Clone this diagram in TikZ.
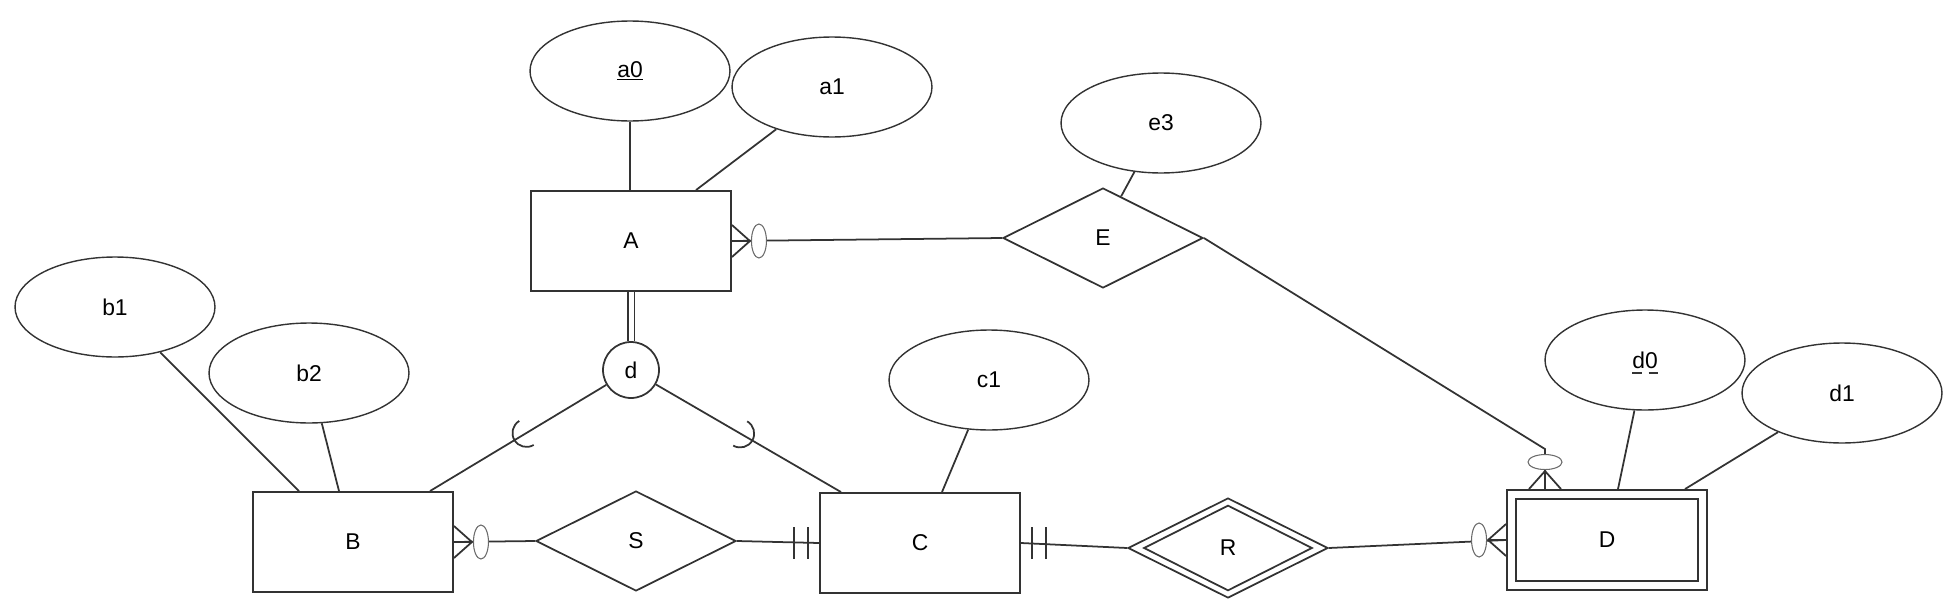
\documentclass[tikz,border=0pt]{standalone}
\usepackage{fontspec}
\setmainfont{Liberation Sans}
\usepackage{tikz}
\usetikzlibrary{calc,shapes.geometric}
\definecolor{cEdge}{HTML}{333333}
\definecolor{cSoft}{HTML}{6A6A6A}
\tikzset{
  ent/.style={draw=cEdge,fill=white,line width=1.1pt,minimum width=4cm,minimum height=2cm,inner sep=0pt,font=\fontsize{13}{15}\selectfont},
  attr/.style={draw=cEdge,ellipse,line width=0.8pt,minimum width=4cm,minimum height=2cm,inner sep=0pt,font=\fontsize{13}{15}\selectfont},
  rel/.style={draw=cEdge,diamond,aspect=2,line width=1pt,minimum width=4cm,minimum height=2cm,inner sep=0pt,font=\fontsize{13}{15}\selectfont},
  spec/.style={draw=cEdge,circle,line width=1pt,minimum size=1.12cm,inner sep=0pt,font=\fontsize{13}{15}\selectfont},
  conn/.style={draw=cEdge,line width=1pt},
  opt/.style={draw=cSoft,fill=white,line width=0.6pt},
  partkey/.style={draw=cEdge,line width=0.7pt,dash pattern=on 0.19cm off 0.14cm},
}
% zero-or-many: crow's foot plus small ellipse
\newcommand{\zeromany}[2]{%
  \begin{scope}[shift={(#1)},rotate=#2]
    \draw[conn] (0,16) -- (18,0) -- (0,-16) (0,0) -- (18,0);
    \draw[opt] (27,0) ellipse [x radius=7.5,y radius=17];
  \end{scope}}
% exactly one: two bars
\newcommand{\mandone}[2]{%
  \begin{scope}[shift={(#1)},rotate=#2]
    \draw[conn] (11,-16) -- (11,16) (25,-16) -- (25,16);
  \end{scope}}
% subset arc on a specialisation line
\newcommand{\subarc}[2]{%
  \begin{scope}[shift={(#1)},rotate=#2]
    \draw[conn] (90:14) arc[start angle=90,end angle=-90,radius=14];
  \end{scope}}

\begin{document}
\begin{tikzpicture}[x=0.02cm,y=0.02cm]
  \useasboundingbox (0,0) rectangle (1954,610);
  % entities
  \node[ent] (A) at (631,369) {A};
  \node[ent] (B) at (353,68) {B};
  \node[ent] (C) at (920,67) {C};
  \node[ent] (D) at (1607,70) {D};
  \draw[line width=1.1pt,draw=cEdge] ([shift={(10,10)}]D.south west) rectangle ([shift={(-10,-10)}]D.north east);
  % relationships
  \node[rel] (E) at (1103,372) {E};
  \node[rel] (S) at (636,69) {S};
  \node[rel] (R) at (1228,62) {R};
  \draw[line width=1pt,draw=cEdge] ($(R.west)+(17,0)$) -- ($(R.north)+(0,-8.5)$) -- ($(R.east)+(-17,0)$) -- ($(R.south)+(0,8.5)$) -- cycle;
  % attributes
  \node[attr] (a0) at (630,539) {\underline{a0}};
  \node[attr] (a1) at (832,523) {a1};
  \node[attr] (e3) at (1161,487) {e3};
  \node[attr] (b1) at (115,303) {b1};
  \node[attr] (b2) at (309,237) {b2};
  \node[attr] (c1) at (989,230) {c1};
  \node[attr] (d0) at (1645,250) {d0};
  \draw[partkey] ([shift={(-13,-13)}]d0.center) -- ([shift={(14,-13)}]d0.center);
  \node[attr] (d1) at (1842,217) {d1};
  % specialisation
  \node[spec] (d) at (631,240) {d};

  \draw[conn] (a0.south) -- (a0.south |- A.north);
  \draw[conn] (a1) -- ([shift={(65,0)}]A.north);
  \draw[conn] (e3) -- ($(E.north)!0.18!(E.east)$);
  \draw[conn] (b1) -- ([shift={(-54,0)}]B.north);
  \draw[conn] (b2) -- ([shift={(-14,0)}]B.north);
  \draw[conn] (c1) -- ([shift={(22,0)}]C.north);
  \draw[conn] (d0) -- ([shift={(11,0)}]D.north);
  \draw[conn] (d1) -- ([shift={(78,0)}]D.north);

  \draw[conn,double=white,double distance=0.1cm] (A.south) -- (d.north);
  \coordinate (Bd) at ([shift={(77,0)}]B.north);
  \coordinate (Cd) at ([shift={(-79,0)}]C.north);
  \coordinate (sB) at ($(d)!0.52!(Bd)$);
  \coordinate (sC) at ($(d)!0.52!(Cd)$);
  \draw[conn] (d) -- (Bd);
  \draw[conn] (d) -- (Cd);
  \subarc{sB}{211}
  \subarc{sC}{-30}

  \draw[conn] (A.east) -- (E.west);
  \zeromany{A.east}{0}
  \coordinate (Dt) at ([shift={(-62,0)}]D.north);
  \draw[conn] (E.east) -- ([shift={(0,40)}]Dt) -- (Dt);
  \zeromany{Dt}{90}
  \draw[conn] (B.east) -- (S.west);
  \zeromany{B.east}{0}
  \draw[conn] (S.east) -- (C.west);
  \mandone{C.west}{180}
  \draw[conn] (C.east) -- (R.west);
  \mandone{C.east}{0}
  \draw[conn] (R.east) -- (D.west);
  \zeromany{D.west}{180}
\end{tikzpicture}
\end{document}
